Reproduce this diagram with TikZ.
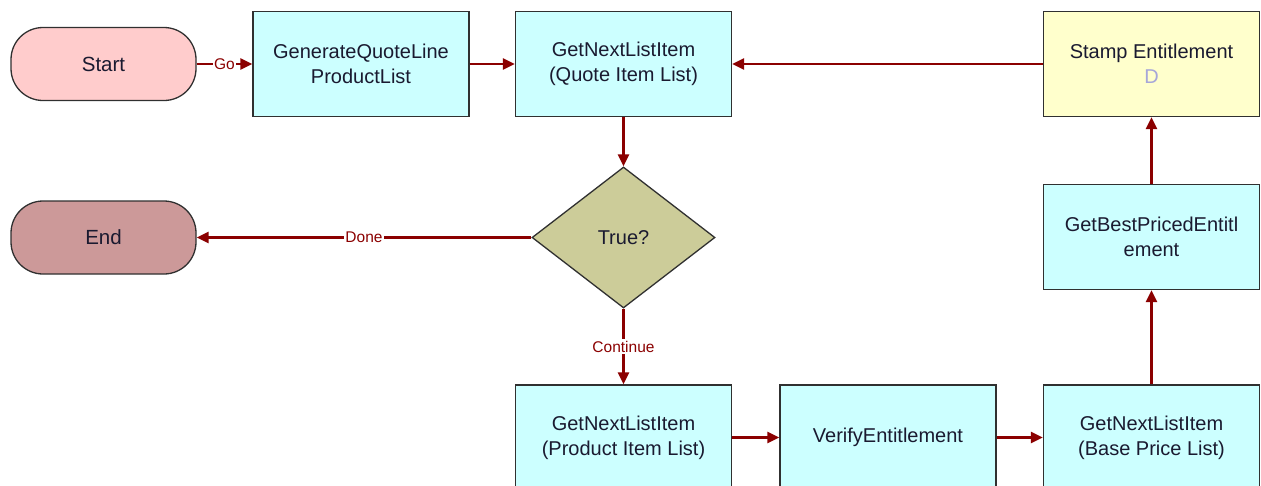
\documentclass[tikz,border=0pt]{standalone}
\usepackage{fontspec}
\setmainfont{Liberation Sans}
\usetikzlibrary{shapes.geometric,arrows.meta}
\definecolor{boxfill}{HTML}{CCFFFF}
\definecolor{startfill}{HTML}{FFCCCC}
\definecolor{endfill}{HTML}{CC9999}
\definecolor{decfill}{HTML}{CCCC99}
\definecolor{stampfill}{HTML}{FFFFCC}
\definecolor{edgecol}{HTML}{8B0000}
\definecolor{bordercol}{HTML}{303030}
\definecolor{txtcol}{HTML}{1A1A30}
\tikzset{
  x=1pt,y=-1pt,
  stepbox/.style={draw=bordercol,line width=1.3pt,fill=boxfill,minimum width=216pt,minimum height=105pt,inner sep=0pt,align=center,font=\fontsize{20}{25}\selectfont,text=txtcol},
  termbox/.style={draw=bordercol,line width=1.3pt,rounded corners=32pt,minimum width=185pt,minimum height=73pt,inner sep=0pt,align=center,font=\fontsize{20.5}{25}\selectfont,text=txtcol},
  decbox/.style={draw=bordercol,line width=1.3pt,fill=decfill,diamond,aspect=1.3,minimum width=183pt,minimum height=141pt,inner sep=0pt,font=\fontsize{20}{25}\selectfont,text=txtcol},
  flow/.style={draw=edgecol,line width=2.6pt,-{Triangle[length=12pt,width=11pt]}},
  lbl/.style={fill=white,inner sep=1.5pt,text=edgecol,font=\fontsize{15.5}{18}\selectfont}
}
\begin{document}
\begin{tikzpicture}
\clip (0,0) rectangle (1261,485);
\fill[white] (0,0) rectangle (1261,485);
\node[termbox,fill=startfill] (start) at (103.5,64) {Start};
\node[stepbox] (gen) at (361,64) {GenerateQuoteLine\\ProductList};
\node[stepbox] (gq) at (623.5,64) {GetNextListItem\\(Quote Item List)};
\node[stepbox,fill=stampfill] (stamp) at (1151.5,64) {Stamp Entitlement\\{\color{gray!60!blue!50}D}};
\node[decbox] (dec) at (623.5,237.5) {True?};
\node[termbox,fill=endfill] (end) at (103.5,237.5) {End};
\node[stepbox] (best) at (1151.5,237) {GetBestPricedEntitl\\ement};
\node[stepbox] (prod) at (623.5,437.5) {GetNextListItem\\(Product Item List)};
\node[stepbox] (ver) at (888,437.5) {VerifyEntitlement};
\node[stepbox] (base) at (1151.5,437.5) {GetNextListItem\\(Base Price List)};

\draw[flow] (start.east) -- node[lbl,pos=0.5] {Go} (gen.west);
\draw[flow] (gen.east) -- (gq.west);
\draw[flow] (stamp.west) -- (gq.east);
\draw[flow] (gq.south) -- (dec.north);
\draw[flow] (dec.west) -- node[lbl,pos=0.5] {Done} (end.east);
\draw[flow] (dec.south) -- node[lbl,pos=0.5] {Continue} (prod.north);
\draw[flow] (prod.east) -- (ver.west);
\draw[flow] (ver.east) -- (base.west);
\draw[flow] (base.north) -- (best.south);
\draw[flow] (best.north) -- (stamp.south);
\end{tikzpicture}
\end{document}
